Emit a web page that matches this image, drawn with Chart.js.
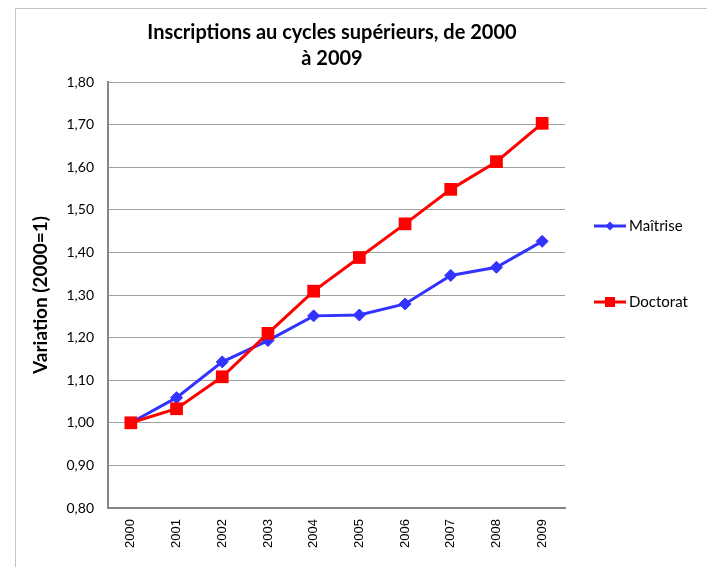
<!DOCTYPE html>
<html>
<head>
<meta charset="utf-8">
<script src="https://cdn.jsdelivr.net/npm/chart.js@4"></script>
<style>
  html, body { margin: 0; padding: 0; background: #fff; overflow: hidden; }
  #wrap { position: relative; width: 707px; height: 567px; }
  #frame { position: absolute; left: 15px; top: 8px; width: 800px; height: 700px; border: 1px solid #c4c4c4; }
  canvas { position: absolute; left: 0; top: 0; }
</style>
</head>
<body>
<div id="wrap">
  <div id="frame"></div>
  <canvas id="enrolChart"></canvas>
</div>
<script>
const years = ['2000', '2001', '2002', '2003', '2004', '2005', '2006', '2007', '2008', '2009'];
const maitrise = [1.000, 1.059, 1.143, 1.193, 1.251, 1.253, 1.279, 1.346, 1.365, 1.426];
const doctorat = [1.000, 1.033, 1.108, 1.210, 1.309, 1.388, 1.467, 1.548, 1.613, 1.703];
const titleLines = ['Inscriptions au cycles supérieurs, de 2000', 'à 2009'];

const blue = '#3333ff';
const red = '#ff0000';

// title + legend drawn by hand to sit where the original has them
const decorations = {
    id: 'decorations',
    afterDraw(chart) {
        const ctx = chart.ctx;
        ctx.save();
        ctx.fillStyle = '#000';
        ctx.textAlign = 'center';
        ctx.textBaseline = 'middle';
        ctx.font = 'bold 20px Lato';
        ctx.fillText(titleLines[0], 332, 33);
        ctx.fillText(titleLines[1], 332, 59);

        const items = [
            { label: 'Maîtrise', color: blue, style: 'diamond', y: 226 },
            { label: 'Doctorat', color: red, style: 'square', y: 302 }
        ];
        items.forEach(it => {
            ctx.strokeStyle = it.color;
            ctx.fillStyle = it.color;
            ctx.lineWidth = 3;
            ctx.beginPath();
            ctx.moveTo(594, it.y);
            ctx.lineTo(626, it.y);
            ctx.stroke();
            ctx.beginPath();
            if (it.style === 'diamond') {
                ctx.moveTo(610, it.y - 4.5);
                ctx.lineTo(614.5, it.y);
                ctx.lineTo(610, it.y + 4.5);
                ctx.lineTo(605.5, it.y);
                ctx.closePath();
            } else {
                ctx.rect(605, it.y - 5, 10, 10);
            }
            ctx.fill();
            ctx.fillStyle = '#000';
            ctx.textAlign = 'left';
            ctx.font = '15px Lato';
            ctx.fillText(it.label, 629, it.y);
        });
        ctx.restore();
    }
};

new Chart(document.getElementById('enrolChart'), {
    type: 'line',
    data: {
        labels: years,
        datasets: [{
            label: 'Maîtrise',
            data: maitrise,
            borderColor: blue,
            backgroundColor: blue,
            borderWidth: 3,
            pointStyle: 'rectRot',
            pointRadius: 6,
            pointBorderWidth: 1,
            tension: 0,
            fill: false,
            order: 2
        }, {
            label: 'Doctorat',
            data: doctorat,
            borderColor: red,
            backgroundColor: red,
            borderWidth: 3,
            pointStyle: 'rect',
            pointRadius: 9,
            pointBorderWidth: 0,
            tension: 0,
            fill: false,
            order: 1
        }]
    },
    options: {
        responsive: true,
        maintainAspectRatio: false,
        animation: false,
        layout: { padding: { left: 20, top: 82, right: 142, bottom: 0 } },
        plugins: {
            legend: { display: false },
            title: { display: false },
            tooltip: { enabled: false }
        },
        scales: {
            x: {
                offset: true,
                grid: { display: false, drawTicks: false },
                border: { color: '#868686', width: 2 },
                ticks: {
                    autoSkip: false,
                    maxRotation: 90,
                    minRotation: 90,
                    padding: 11,
                    color: '#000',
                    font: { family: 'Liberation Sans', size: 13 }
                },
                afterFit(scale) { scale.height = 59; }
            },
            y: {
                min: 0.8,
                max: 1.8,
                grid: { color: '#a0a0a0', lineWidth: 1, drawTicks: false },
                border: { color: '#868686', width: 2 },
                ticks: {
                    stepSize: 0.1,
                    padding: 14,
                    color: '#000',
                    font: { family: 'Lato', size: 14 },
                    callback: v => v.toFixed(2).replace('.', ',')
                },
                title: {
                    display: true,
                    text: 'Variation (2000=1)',
                    color: '#000',
                    font: { family: 'Lato', size: 19, weight: 'bold' },
                    padding: { top: 9, bottom: 0 }
                },
                afterFit(scale) { scale.width = 88; }
            }
        }
    },
    plugins: [decorations]
});
</script>
</body>
</html>
